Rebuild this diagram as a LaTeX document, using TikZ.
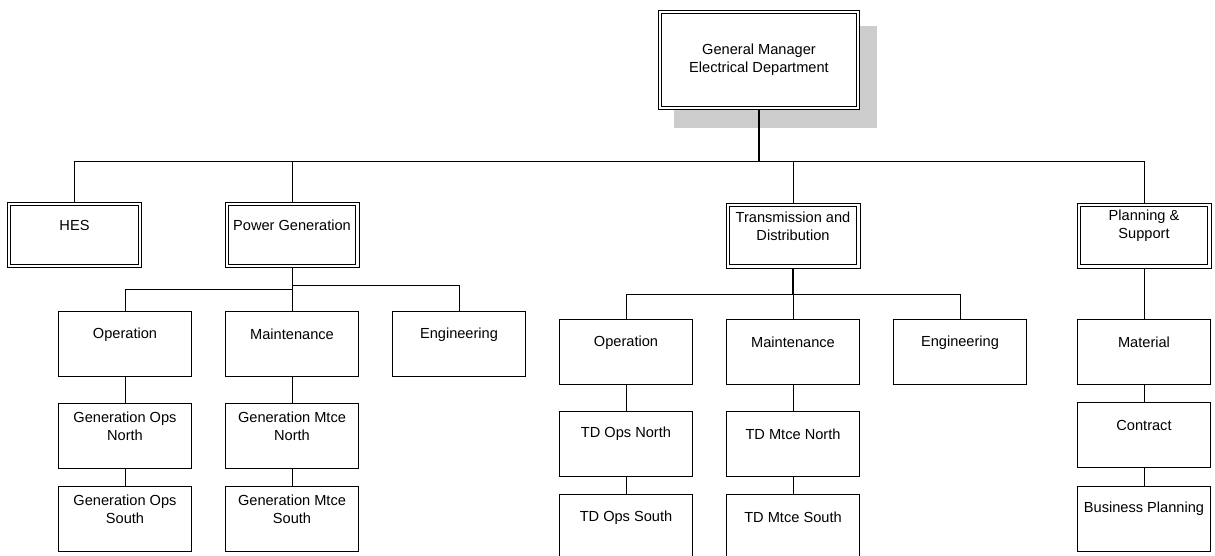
\documentclass[tikz,border=0pt]{standalone}
\usepackage{fontspec}
\setmainfont{Liberation Sans}
\usetikzlibrary{backgrounds}
\definecolor{shadowgray}{HTML}{CCCCCC}
\begin{document}
\begin{tikzpicture}[x=1pt,y=-1pt,
  conn/.style={line width=0.9pt},
  thickconn/.style={line width=1.6pt},
  sbox/.style={draw, line width=0.9pt, fill=white, minimum width=133pt, minimum height=65pt, inner sep=0pt},
  dbox/.style={sbox, minimum width=134pt},
  inner/.style={line width=0.9pt},
  txt/.style={align=center, inner sep=0pt, font=\fontsize{14.6}{18}\selectfont},
  slab/.style={txt, anchor=center, yshift=-23.5pt},
]
\useasboundingbox (0,0) rectangle (1215,556);

% top
\node[dbox, txt, minimum width=201pt, minimum height=99pt] (gm) at (759,60) {General Manager\\Electrical Department};
\begin{scope}[on background layer]
  \fill[shadowgray] ([shift={(16pt,-15.5pt)}]gm.north west) rectangle ([shift={(17.5pt,-18pt)}]gm.south east);
\end{scope}

% level 1
\node[dbox, label={[slab]north:HES}] (hes) at (74.5,235) {};
\node[dbox, label={[slab]north:Power Generation}] (pg) at (292,235) {};
\node[dbox, label={[slab]north:{Transmission and\\Distribution}}] (td) at (793,235.5) {};
\node[dbox, label={[slab]north:{Planning \&\\Support}}] (ps) at (1144,235.5) {};

% inner lines of the double borders
\foreach \n in {gm,hes,pg,td,ps}
  \draw[inner] ([shift={(3.6pt,-3.6pt)}]\n.north west) rectangle ([shift={(-3.6pt,3.6pt)}]\n.south east);

% power generation
\node[sbox, label={[slab]north:Operation}] (gop) at (125,344) {};
\node[sbox, label={[slab]north:Maintenance}] (gmt) at (292,344) {};
\node[sbox, label={[slab]north:Engineering}] (geng) at (459,344) {};
\node[sbox, label={[slab]north:{Generation Ops\\North}}] (gopn) at (125,435.5) {};
\node[sbox, label={[slab]north:{Generation Mtce\\North}}] (gmtn) at (292,435.5) {};
\node[sbox, label={[slab]north:{Generation Ops\\South}}] (gops) at (125,518.5) {};
\node[sbox, label={[slab]north:{Generation Mtce\\South}}] (gmts) at (292,519) {};

% transmission and distribution
\node[sbox, label={[slab]north:Operation}] (top) at (626,352) {};
\node[sbox, label={[slab]north:Maintenance}] (tmt) at (793,352) {};
\node[sbox, label={[slab]north:Engineering}] (teng) at (960,352) {};
\node[sbox, label={[slab]north:TD Ops North}] (topn) at (626,443.5) {};
\node[sbox, label={[slab]north:TD Mtce North}] (tmtn) at (793,443.5) {};
\node[sbox, label={[slab]north:TD Ops South}] (tops) at (626,527) {};
\node[sbox, label={[slab]north:TD Mtce South}] (tmts) at (793,527) {};

% planning & support
\node[sbox, label={[slab]north:Material}] (pmat) at (1144,352) {};
\node[sbox, label={[slab]north:Contract}] (pcon) at (1144,435) {};
\node[sbox, label={[slab]north:Business Planning}] (pbus) at (1144,518.5) {};

% bus coordinates
\coordinate (bus1) at (0,161);
\coordinate (bus2l) at (0,289);
\coordinate (bus2r) at (0,285);
\coordinate (bus3) at (0,294.5);

% connectors level 1
\draw[thickconn] (gm.south) -- (gm.south |- bus1);
\draw[conn] (gm.south |- bus1) -| (hes.north);
\draw[conn] (gm.south |- bus1) -| (pg.north);
\draw[conn] (gm.south |- bus1) -| (td.north);
\draw[conn] (gm.south |- bus1) -| (ps.north);

% power generation connectors
\draw[conn] (pg.south) -- (pg.south |- bus2l) -| (gop.north);
\draw[conn] (pg.south |- bus2r) -| (geng.north);
\draw[conn] (pg.south) -- (gmt.north);
\draw[conn] (gop.south) -- (gopn.north);
\draw[conn] (gopn.south) -- (gops.north);
\draw[conn] (gmt.south) -- (gmtn.north);
\draw[conn] (gmtn.south) -- (gmts.north);

% T&D connectors
\draw[thickconn] (td.south) -- (td.south |- bus3);
\draw[conn] (td.south |- bus3) -| (top.north);
\draw[conn] (td.south |- bus3) -| (teng.north);
\draw[conn] (td.south |- bus3) -- (tmt.north);
\draw[conn] (top.south) -- (topn.north);
\draw[conn] (topn.south) -- (tops.north);
\draw[conn] (tmt.south) -- (tmtn.north);
\draw[conn] (tmtn.south) -- (tmts.north);

% planning connectors
\draw[conn] (ps.south) -- (pmat.north);
\draw[conn] (pmat.south) -- (pcon.north);
\draw[conn] (pcon.south) -- (pbus.north);
\end{tikzpicture}
\end{document}
